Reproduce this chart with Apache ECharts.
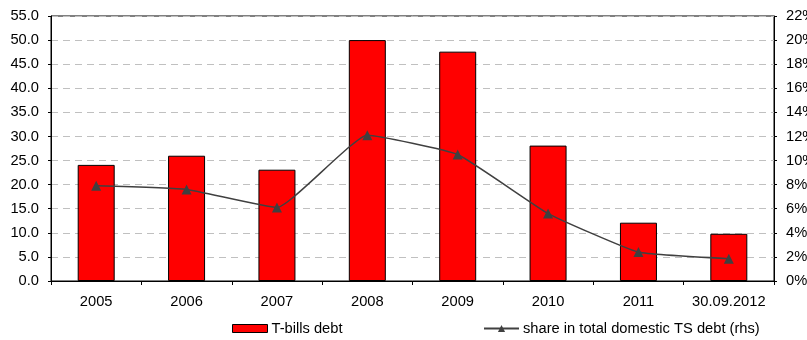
<!DOCTYPE html>
<html><head><meta charset="utf-8">
<script src="https://cdn.jsdelivr.net/npm/echarts@6/dist/echarts.min.js"></script>
<style>html,body{margin:0;padding:0;background:#fff}#c{width:807px;height:340px}</style>
</head><body><div id="c"></div>
<script>
var categories = ['2005','2006','2007','2008','2009','2010','2011','30.09.2012'];
var tbillsDebt = [24.1, 26.0, 23.1, 50.0, 47.6, 28.1, 12.1, 9.8];
var shareInTotal = [7.9, 7.6, 6.1, 12.1, 10.5, 5.6, 2.4, 1.85];

var chart = echarts.init(document.getElementById('c'));
var font = 'Liberation Sans, Arial, sans-serif';
var fs = 14.7;
chart.setOption({
  animation: false,
  textStyle: {fontFamily: font, color: '#000'},
  grid: {left: 51, right: 33, top: 16, bottom: 59, show: true, borderColor: '#000', borderWidth: 1,
         containLabel: false, outerBoundsMode: 'none'},
  legend: [
    {data: [{name: 'T-bills debt', icon: 'rect'}], left: 232, top: 321, padding: 0, itemWidth: 35, itemHeight: 8,
     itemStyle: {borderColor: '#000', borderWidth: 1},
     textStyle: {fontFamily: font, fontSize: fs, color: '#000', padding: [0,0,0,-1]}},
    {data: ['share in total domestic TS debt (rhs)'], left: 483, top: 321, padding: 0, itemWidth: 35, itemHeight: 9,
     textStyle: {fontFamily: font, fontSize: fs, color: '#000', padding: [0,0,0,-1]}}
  ],
  xAxis: {
    type: 'category', data: categories,
    axisLine: {lineStyle: {color: '#000'}},
    axisTick: {show: true, length: 4, lineStyle: {color: '#000'}},
    axisLabel: {color: '#000', fontSize: fs, fontFamily: font, margin: 13, interval: 0, hideOverlap: false}
  },
  yAxis: [
    {type: 'value', min: 0, max: 55, interval: 5,
     axisLine: {show: true, lineStyle: {color: '#000'}},
     axisTick: {show: true, length: 3, lineStyle: {color: '#000'}},
     axisLabel: {color: '#000', fontSize: fs, fontFamily: font, margin: 12, formatter: function(v){return v.toFixed(1);}},
     splitLine: {show: true, lineStyle: {color: '#c0c0c0', type: [7,5]}}},
    {type: 'value', min: 0, max: 22, interval: 2, position: 'right',
     axisLine: {show: true, lineStyle: {color: '#000'}},
     axisTick: {show: true, length: 3, lineStyle: {color: '#000'}},
     axisLabel: {color: '#000', fontSize: fs, fontFamily: font, margin: 12, formatter: '{value}%'},
     splitLine: {show: false}}
  ],
  series: [
    {name: 'T-bills debt', type: 'bar', data: tbillsDebt, barWidth: 37, yAxisIndex: 0,
     itemStyle: {color: '#ff0000', borderColor: '#000', borderWidth: 1}},
    {name: 'share in total domestic TS debt (rhs)', type: 'line', data: shareInTotal, yAxisIndex: 1,
     smooth: 0.12, symbol: 'triangle', symbolSize: 10,
     lineStyle: {color: '#404040', width: 1.5}, itemStyle: {color: '#404040'}}
  ]
});
</script></body></html>
